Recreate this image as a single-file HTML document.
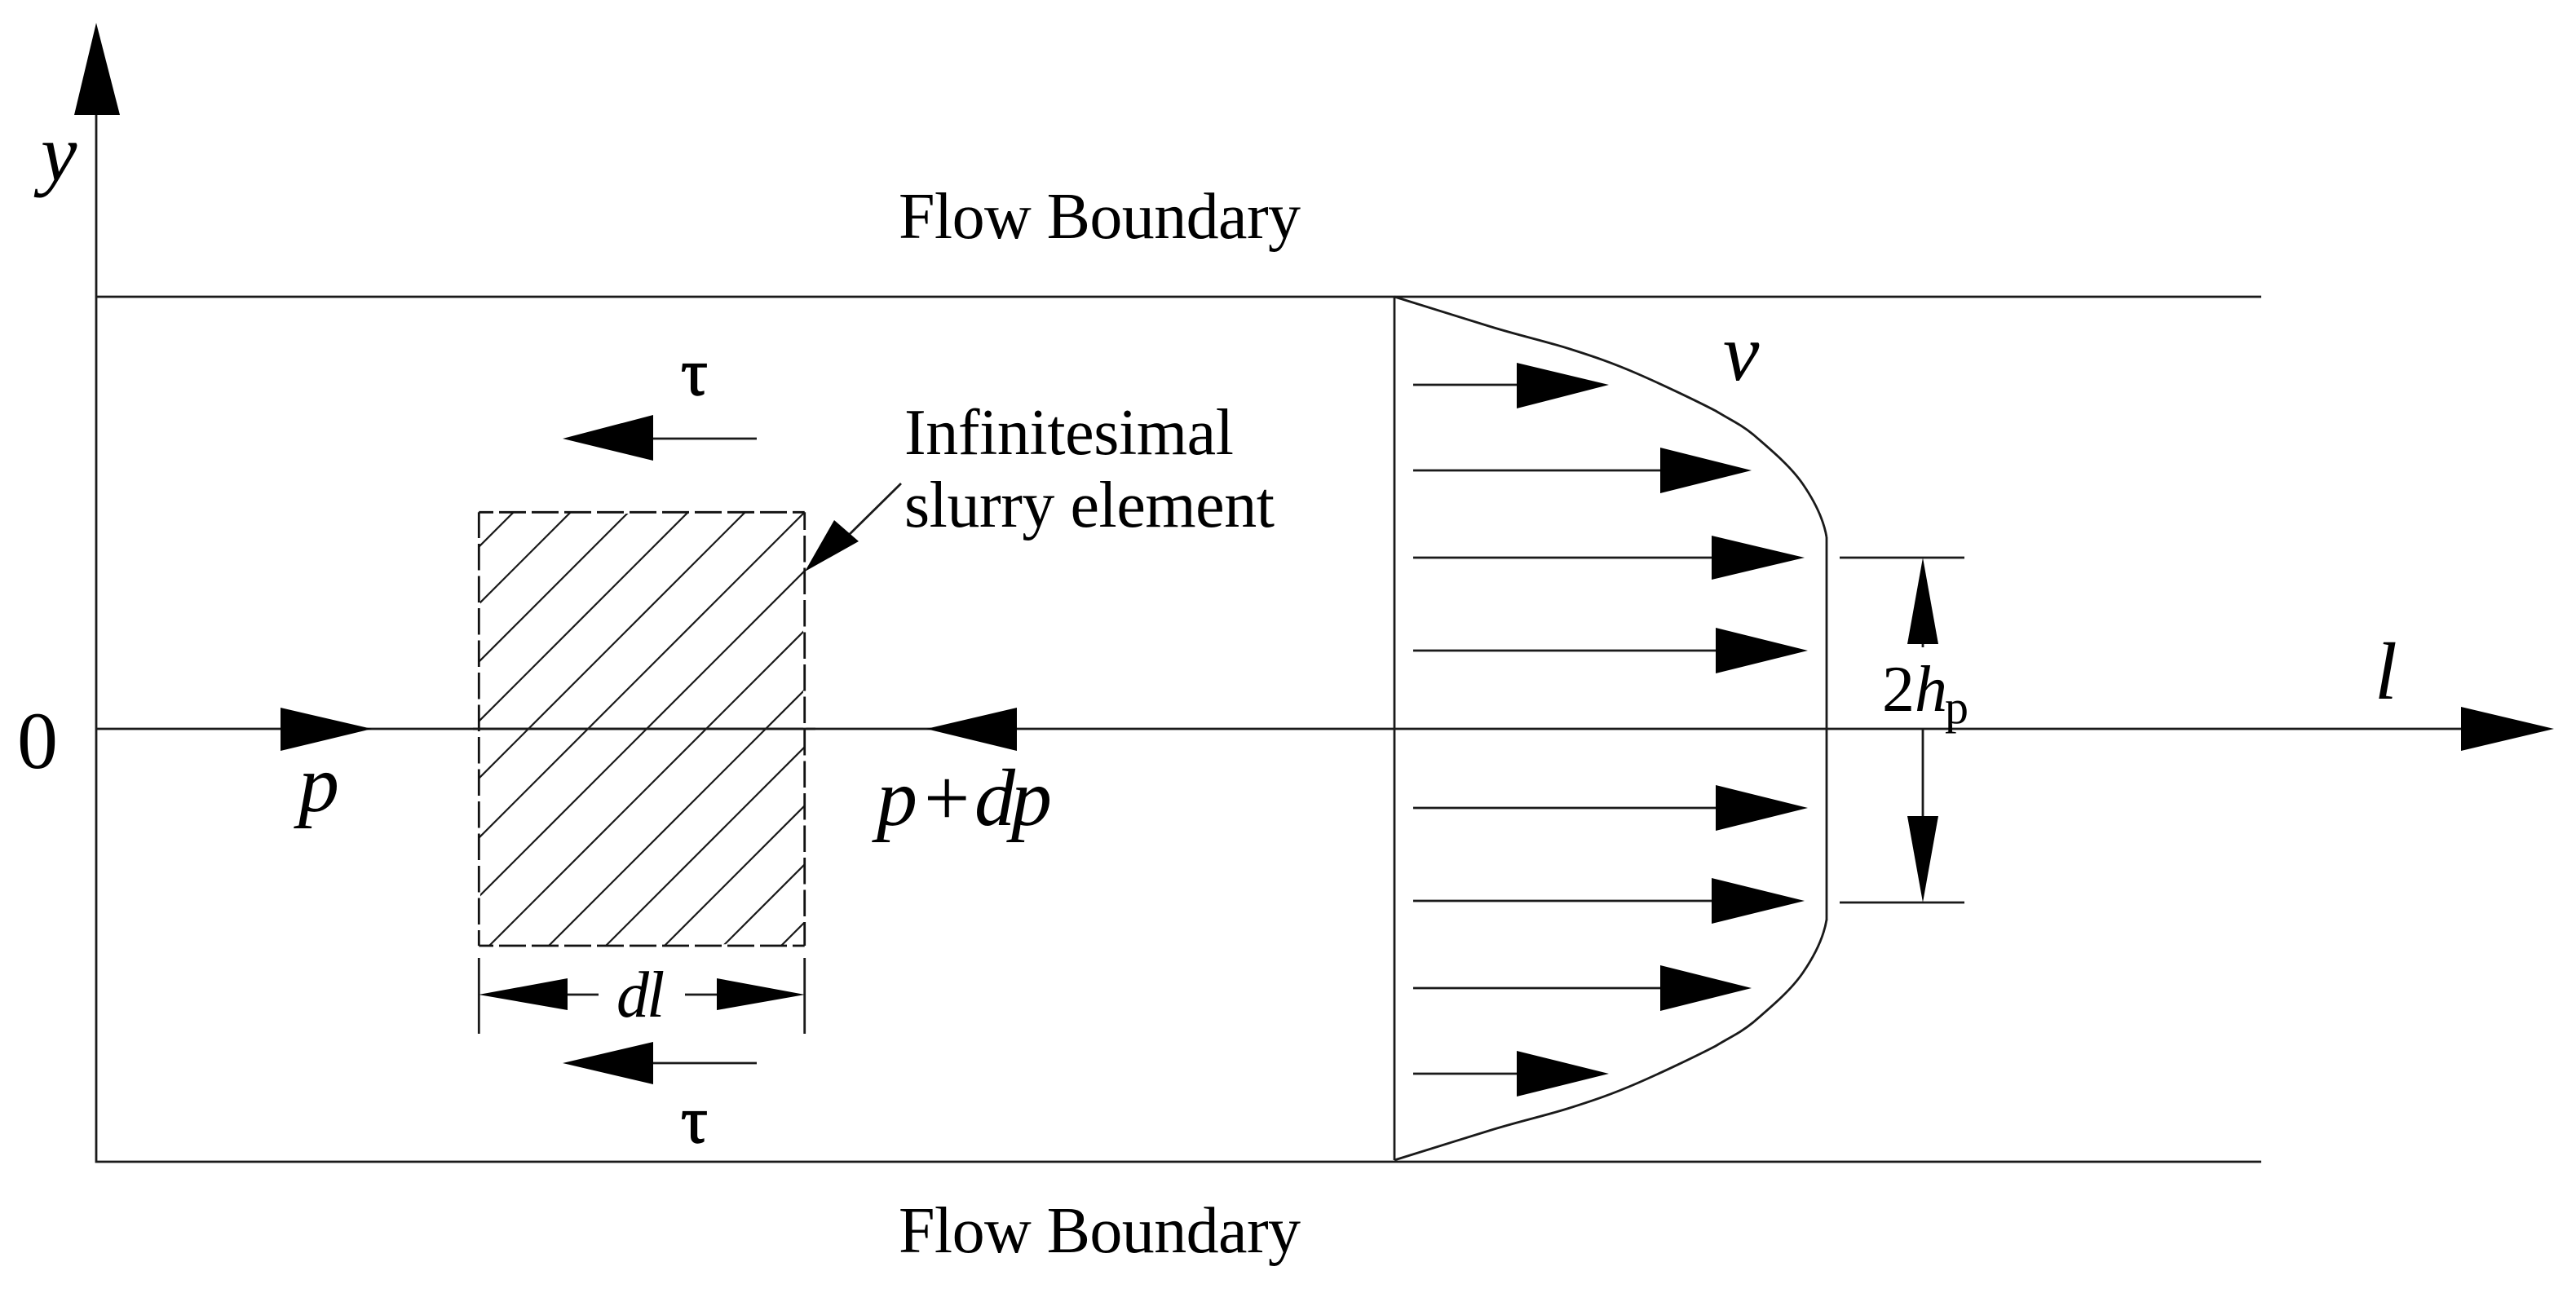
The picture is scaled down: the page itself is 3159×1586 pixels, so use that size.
<!DOCTYPE html>
<html><head><meta charset="utf-8"><style>
html,body{margin:0;padding:0;background:#fff}
svg{display:block}
text{font-family:"Liberation Serif",serif;fill:#000}
.i{font-style:italic}
</style></head><body>
<svg xmlns="http://www.w3.org/2000/svg" width="3159" height="1586" viewBox="0 0 3159 1586">
<rect width="3159" height="1586" fill="#fff"/>
<g stroke="#1a1a1a" stroke-width="2.8" fill="none">
<path d="M118 100V1425H2773M118 364H2773M118 894H3060"/>
<path d="M1710 364V1423M2240 659V1129"/>
<path d="M1710 364C1730 370 1793 390 1829 401C1865 412 1895 418.5 1925 428C1955 437.5 1977 445 2007 458C2037 471 2080 491.5 2104 504C2122 515 2134 520 2150 533C2172 552 2196 572 2211 594C2224 613 2236 635 2240 659"/>
<path transform="matrix(1 0 0 -1 0 1787)" d="M1710 364C1730 370 1793 390 1829 401C1865 412 1895 418.5 1925 428C1955 437.5 1977 445 2007 458C2037 471 2080 491.5 2104 504C2122 515 2134 520 2150 533C2172 552 2196 572 2211 594C2224 613 2236 635 2240 659"/>
<path d="M801 538H928M801 1304H928M696 1220H734M840 1220H879M587.3 1175V1268M986.7 1175V1268"/>
<path d="M1105 593L1035 662"/>
<path d="M1733 472H1870M1733 577H2045M1733 684H2105M1733 798H2110M1733 991H2110M1733 1105H2105M1733 1212H2045M1733 1317H1870"/>
<path d="M2256 684H2409M2256 1107H2409M2358 780V794M2358 894V1010"/>
</g>
<g stroke="#1a1a1a" stroke-width="2.2" fill="none">
<path d="M629.7 628.3L587.3 670.7M699.7 628.3L587.3 740.7M770.7 628.3L587.3 811.7M843.7 628.3L587.3 884.7M913.7 628.3L587.3 954.7M986.7 628.3L587.3 1027.7M986.7 700.3L587.3 1099.7M986.7 773.3L600 1160M986.7 846.3L673 1160M986.7 916.3L743 1160M986.7 988.3L815 1160M986.7 1060.3L887 1160M986.7 1131.3L958 1160"/>
</g>
<g stroke="#fff" stroke-width="3.4" fill="none">
<path d="M587.3 628.3H986.7M587.3 1160H986.7" stroke-dasharray="7 33" stroke-dashoffset="-17.7"/>
<path d="M587.3 628.3V1160" stroke-dasharray="7 32.5" stroke-dashoffset="-31.7"/>
<path d="M986.7 628.3V1160" stroke-dasharray="7 32.5" stroke-dashoffset="-21.7"/>
</g>
<g stroke="#111" stroke-width="2.8" fill="none">
<path d="M587.3 628.3H986.7M587.3 1160H986.7" stroke-dasharray="33 7" stroke-dashoffset="15.3"/>
<path d="M587.3 628.3V1160" stroke-dasharray="32.5 7" stroke-dashoffset="0.8"/>
<path d="M986.7 628.3V1160" stroke-dasharray="32.5 7" stroke-dashoffset="10.8"/>
</g>
<path stroke="#1a1a1a" stroke-width="2.8" fill="none" d="M580 894H1000"/>
<g fill="#000">
<polygon points="118,28 91,141 147,141"/>
<polygon points="344,868 456,894 344,921"/>
<polygon points="690,538 801,509 801,565"/>
<polygon points="690,1304 801,1278 801,1330"/>
<polygon points="1136,894 1247,868 1247,921"/>
<polygon points="587,1220 696,1200 696,1239"/>
<polygon points="987,1220 879,1200 879,1239"/>
<polygon points="987,701 1023,638 1053,664"/>
<polygon points="1860,445 1973,472 1860,501"/>
<polygon points="2036,549 2148,577 2036,605"/>
<polygon points="2099,657 2213,684 2099,711"/>
<polygon points="2104,770 2217,798 2104,826"/>
<polygon points="2104,963 2217,991 2104,1019"/>
<polygon points="2099,1077 2213,1105 2099,1133"/>
<polygon points="2036,1184 2148,1212 2036,1240"/>
<polygon points="1860,1289 1973,1317 1860,1345"/>
<polygon points="2358,684 2339,790 2377,790"/>
<polygon points="2358,1107 2339,1001 2377,1001"/>
<polygon points="3018,867 3132,894 3018,921"/>
</g>
<text x="1102" y="292" font-size="80" textLength="493" lengthAdjust="spacing">Flow Boundary</text>
<text x="1102" y="1536" font-size="80" textLength="493" lengthAdjust="spacing">Flow Boundary</text>
<text x="1109" y="557" font-size="80" textLength="404" lengthAdjust="spacing">Infinitesimal</text>
<text x="1109" y="646" font-size="80" textLength="454" lengthAdjust="spacing">slurry element</text>
<text x="50" y="221" font-size="100" class="i">y</text>
<text x="21" y="942" font-size="100">0</text>
<text x="366" y="995" font-size="100" class="i">p</text>
<text y="1012" font-size="100"><tspan x="1075" class="i">p</tspan><tspan x="1133">+</tspan><tspan x="1195" class="i">d</tspan><tspan x="1240" class="i">p</tspan></text>
<text x="835" y="484" font-size="82" stroke="#000" stroke-width="1.5">τ</text>
<text x="835" y="1401" font-size="82" stroke="#000" stroke-width="1.5">τ</text>
<text y="1247" font-size="80" class="i"><tspan x="756">d</tspan><tspan x="793">l</tspan></text>
<text x="2113" y="466" font-size="100" class="i">v</text>
<text x="2308" y="872" font-size="80">2</text>
<text x="2348" y="872" font-size="80" class="i">h</text>
<text x="2385" y="887" font-size="58">p</text>
<text x="2912" y="857" font-size="100" class="i">l</text>
</svg>
</body></html>
